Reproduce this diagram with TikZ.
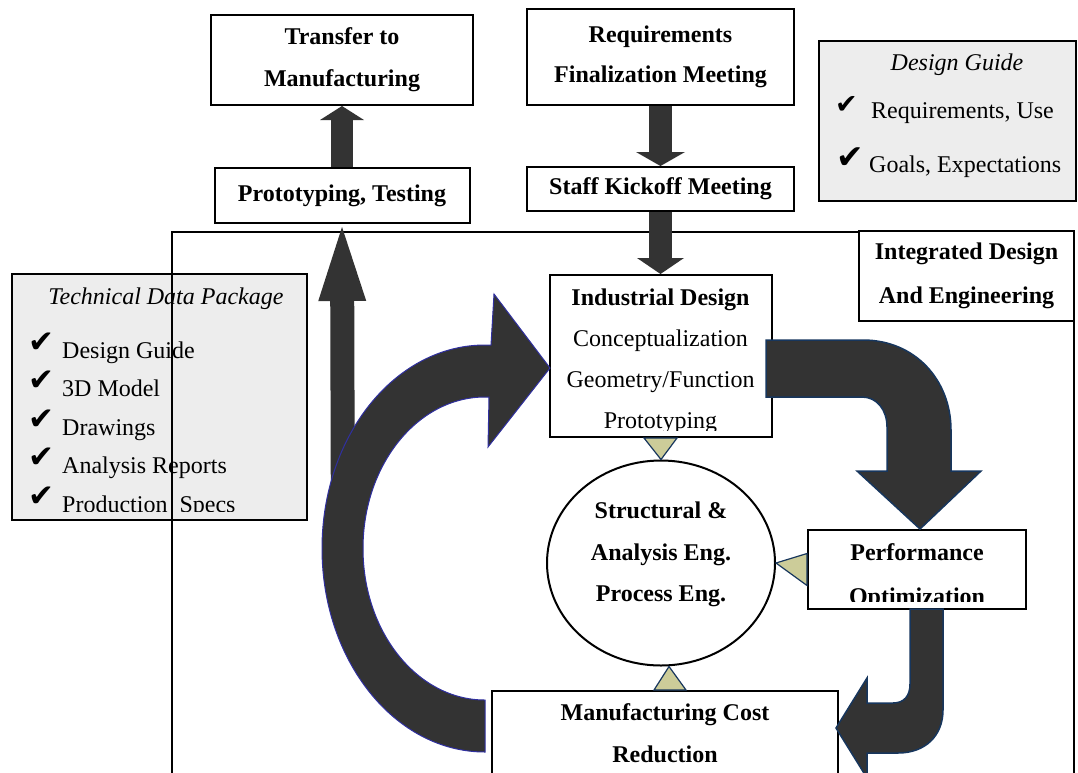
\documentclass[tikz,border=0pt]{standalone}
\usepackage{fontspec}
\setmainfont{Liberation Serif}
\newfontfamily\checkfont{DejaVu Sans}
\usetikzlibrary{arrows.meta,shapes.geometric}

\definecolor{arrowgray}{RGB}{51,51,51}
\definecolor{navyline}{RGB}{23,54,93}
\definecolor{loopline}{RGB}{48,48,160}
\definecolor{khaki}{RGB}{204,204,153}
\definecolor{panelgray}{RGB}{237,237,237}

\newcommand{\chkmark}[1]{{\fontsize{#1}{#1}\selectfont\checkfont ✔}}

\tikzset{
  box/.style={draw, line width=2pt, fill=white, inner sep=0pt, align=center,
    font=\fontsize{24}{42}\selectfont\bfseries},
  panel/.style={draw, line width=2pt, fill=panelgray, inner sep=0pt},
  frame/.style={line width=2pt},
  txt/.style={inner sep=0pt, align=center, font=\fontsize{24}{41}\selectfont},
  item/.style={inner sep=0pt, anchor=base west, font=\fontsize{24}{24}\selectfont},
  flow/.style={draw=arrowgray},
  fatarrow/.style={fill=arrowgray, draw=navyline, line width=1.5pt, line join=miter},
  loopshape/.style={fill=arrowgray, draw=loopline, line width=1pt, line join=miter},
  connector/.style={fill=khaki, draw=navyline, line width=1.2pt, line join=miter}
}

\begin{document}
\begin{tikzpicture}[x=1pt,y=-1pt]
  \useasboundingbox (0,0) rectangle (1078,772);
  \clip (0,0) rectangle (1078,772);

  % technical data package panel
  \node[panel, minimum width=295pt, minimum height=246pt] (tdp) at (159.5,397) {};
  \begin{scope}
    \clip (12,274) rectangle (307,511.5);
    \node[item, anchor=base, font=\fontsize{24}{24}\selectfont\itshape] (tdptitle) at (166,304) {Technical Data Package};
    \node[item] (tdpa) at (28,358) {\makebox[34pt][l]{\raisebox{6pt}{\chkmark{31}}}Design Guide};
    \node[item] (tdpb) at (28,396.5) {\makebox[34pt][l]{\raisebox{6pt}{\chkmark{31}}}3D Model};
    \node[item] (tdpc) at (28,435) {\makebox[34pt][l]{\raisebox{6pt}{\chkmark{31}}}Drawings};
    \node[item] (tdpd) at (28,473.5) {\makebox[34pt][l]{\raisebox{6pt}{\chkmark{31}}}Analysis Reports};
    \node[item] (tdpe) at (28,512) {\makebox[34pt][l]{\raisebox{6pt}{\chkmark{31}}}Production\ \ Specs};
  \end{scope}

  % design guide panel
  \node[panel, minimum width=257pt, minimum height=160pt] (guide) at (947.5,121) {};
  \node[item, anchor=base, font=\fontsize{24}{24}\selectfont\itshape] (guidetitle) at (957,70) {Design Guide};
  \node[item] (guidea) at (835,118) {\makebox[36pt][l]{\raisebox{5pt}{\chkmark{27}}}Requirements, Use};
  \node[item] (guideb) at (836,172) {\makebox[33pt][l]{\raisebox{4pt}{\chkmark{33}}}Goals, Expectations};

  % integrated design frame
  \draw[frame] (172,232) rectangle (1074,800);
  \node[box, minimum width=215pt, minimum height=90pt] (integ) at (966.5,276) {Integrated Design\\[2pt]And Engineering};

  % top row
  \node[box, minimum width=262pt, minimum height=90pt] (transfer) at (342,60) {Transfer to\\Manufacturing};
  \node[box, minimum width=255pt, minimum height=55pt] (proto) at (342,195.5) {Prototyping, Testing};
  \node[box, minimum width=267pt, minimum height=96pt] (req) at (660.5,57) {Requirements\\[-2.5pt]Finalization Meeting};
  \node[box, minimum width=267pt, minimum height=44pt] (staff) at (660.5,189) {Staff Kickoff Meeting};

  % design loop
  \node[box, minimum width=222pt, minimum height=162pt] (industrial) at (660.5,356) {};
  \node[draw, ellipse, line width=2pt, fill=white, inner sep=0pt,
    minimum width=228pt, minimum height=205pt] (struct) at (661,563) {};
  \node[box, minimum width=218pt, minimum height=79pt] (perf) at (917,569.5) {};
  \node[box, minimum width=346pt, minimum height=110pt] (manuf) at (665,746) {};

  \begin{scope}
    \clip (549,275) rectangle (771,430);
    \node[txt] (industriallbl) at (660.5,361) {\textbf{Industrial Design}\\Conceptualization\\Geometry/Function\\Prototyping};
  \end{scope}
  \node[txt, font=\fontsize{24}{41.5}\selectfont\bfseries] (structlbl) at (661,554.5) {Structural \&\\Analysis Eng.\\Process Eng.};
  \begin{scope}
    \clip (808,530) rectangle (1026,601);
    \node[txt, font=\fontsize{24}{44}\selectfont\bfseries] (perflbl) at (917,576.5) {Performance\\Optimization};
  \end{scope}
  \node[txt, font=\fontsize{24}{42}\selectfont\bfseries] (manuflbl) at (665,733) {Manufacturing Cost\\Reduction};

  % return arrow up to prototyping
  \coordinate (loopbase) at (343,560);
  \draw[flow, line width=24pt, -{Triangle[width=48pt,length=74pt,line width=0pt]}, shorten >=3pt] (loopbase) -- (proto.south);

  % big loop arrow back into industrial design
  \filldraw[loopshape] (485,752) .. controls (395,752) and (322,660.9) .. (322,548.5)
    .. controls (322,436.1) and (395,345) .. (485,345) -- (491,345) -- (494,294) -- (550,368)
    -- (488,447) -- (489,397) -- (485,397) .. controls (417.6,397) and (363,464.8) .. (363,548.5)
    .. controls (363,632.2) and (417.6,700) .. (485,700) -- cycle;

  % industrial design -> performance
  \filldraw[fatarrow] (766,340) -- (863,340) .. controls (915,340) and (951,380) .. (951,430)
    -- (951,471) -- (981,471) -- (920,529) -- (857,471) -- (887,471) -- (887,427)
    .. controls (887,410) and (877,397) .. (862,397) -- (766,397) -- cycle;

  % performance -> manufacturing cost
  \filldraw[fatarrow] (910,609) -- (943,609) -- (943,710) .. controls (943,736) and (925,753) .. (898,753)
    -- (867,753) -- (867,778) -- (836,728) -- (867,678) -- (867,703) -- (893,703)
    .. controls (904,703) and (910,696) .. (910,684) -- cycle;

  % straight flow arrows
  \draw[flow, line width=22pt, -{Triangle[width=44pt,length=14pt,line width=0pt]}] (proto.north) -- (transfer.south);
  \draw[flow, line width=23pt, -{Triangle[width=49pt,length=14pt,line width=0pt]}] (req.south) -- (staff.north);
  \draw[flow, line width=23pt, -{Triangle[width=47pt,length=16pt,line width=0pt]}] (staff.south) -- (industrial.north);

  % small links into the analysis circle
  \draw[connector] ([xshift=-16.5pt]industrial.south) -- (struct.north) -- ([xshift=16.5pt]industrial.south) -- cycle;
  \draw[connector] ([yshift=16pt]perf.west) -- (struct.east) -- ([yshift=-16pt]perf.west) -- cycle;
  \draw[connector] ([xshift=-11pt]manuf.north) -- ([xshift=8pt]struct.south) -- ([xshift=21pt]manuf.north) -- cycle;
\end{tikzpicture}
\end{document}
